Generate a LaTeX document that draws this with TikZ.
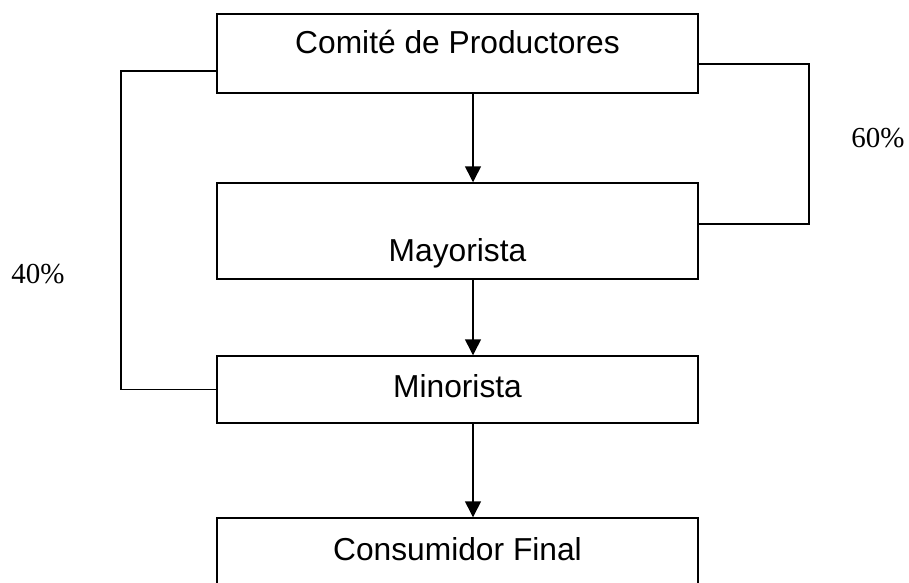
\documentclass[tikz,border=0pt]{standalone}
\usepackage{fontspec}
\setmainfont{Liberation Serif}
\newfontfamily\arialfont{Liberation Sans}
\usetikzlibrary{arrows.meta}

\begin{document}
\begin{tikzpicture}[x=0.75pt,y=-0.75pt,line width=1.1pt,
  box/.style n args={3}{draw,rectangle,inner sep=0pt,minimum width=360.75pt,minimum height=#1,text height=#2,text depth=#3,font=\arialfont\fontsize{23.8}{28}\selectfont},
  pct/.style={anchor=base,inner sep=0pt,font=\fontsize{21.75}{26}\selectfont},
  arr/.style={-{Triangle[length=12pt,width=12pt]}}]
\useasboundingbox (0,0) rectangle (909,582);
\node[box={59.25pt}{12pt}{12pt}] (prod) at (457.5,53.5) {Comité de Productores};
\node[box={72pt}{45pt}{0pt}] (may) at (457.5,231) {Mayorista};
\node[box={50.25pt}{17pt}{5.75pt}] (min) at (457.5,389.5) {Minorista};
\node[box={54pt}{13pt}{4pt}] (con) at (457.5,554) {Consumidor Final};
\node[pct] (p40) at (38,283) {40\%};
\node[pct] (p60) at (878,147) {60\%};
\coordinate (axis) at (473,0);
\coordinate (lft) at (121,389.5);
\coordinate (rgt) at (809,224);
\draw[arr] (prod.south -| axis) -- (may.north -| axis);
\draw[arr] (may.south -| axis) -- (min.north -| axis);
\draw[arr] (min.south -| axis) -- (con.north -| axis);
\draw ([yshift=-13.1pt]prod.west) -| (lft) -- (min.west);
\draw ([yshift=-7.9pt]prod.east) -| (rgt) -- ([yshift=5.25pt]may.east);
\end{tikzpicture}
\end{document}
